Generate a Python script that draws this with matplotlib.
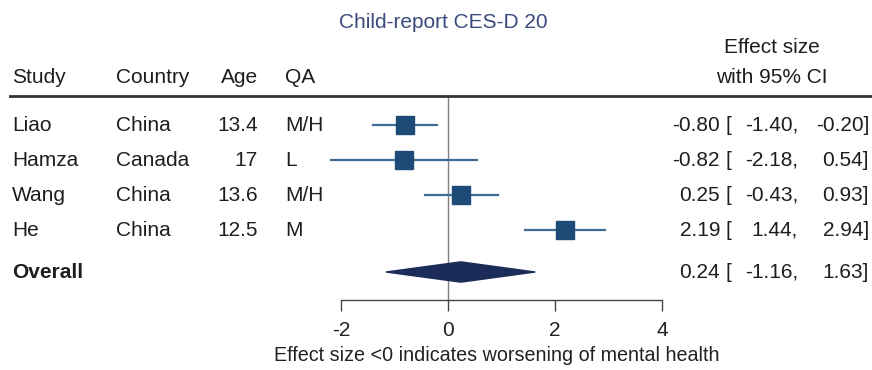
import numpy as np
import matplotlib
matplotlib.use('Agg')
import matplotlib.pyplot as plt
from matplotlib.lines import Line2D
from matplotlib.transforms import blended_transform_factory

plt.rcParams['font.family'] = ['Liberation Sans', 'DejaVu Sans']

STUDIES = ['Liao', 'Hamza', 'Wang', 'He']
COUNTRIES = ['China', 'Canada', 'China', 'China']
AGES = ['13.4', '17', '13.6', '12.5']
QA = ['M/H', 'L', 'M/H', 'M']
EFFECT = [-0.80, -0.82, 0.25, 2.19]
CI_LOW = [-1.40, -2.18, -0.43, 1.44]
CI_HIGH = [-0.20, 0.54, 0.93, 2.94]
OVERALL = 0.24
OVERALL_LOW = -1.16
OVERALL_HIGH = 1.63
XTICKS = [-2, 0, 2, 4]

W, H = 872, 370
FS = 15

fig = plt.figure(figsize=(W / 100, H / 100), dpi=100)
ax = fig.add_axes([341 / W, 70 / H, 321 / W, 204 / H])

n = len(STUDIES)
rows = np.arange(n)
overall_y = n + 0.2

ax.set_xlim(-2, 4)
ax.set_ylim(5.0, -0.83)

# zero line
ax.axvline(0, color='#7f7f7f', lw=1.0, zorder=1)

# study CIs and markers
for y, est, lo, hi in zip(rows, EFFECT, CI_LOW, CI_HIGH):
    ax.plot([lo, hi], [y, y], color='#3f6b97', lw=1.6, clip_on=False, zorder=2)
    ax.plot(est, y, marker='s', markersize=13, color='#1d4a77', clip_on=False, zorder=3)

# overall diamond
hh = 0.29
ax.fill([OVERALL_LOW, OVERALL, OVERALL_HIGH, OVERALL],
        [overall_y, overall_y - hh, overall_y, overall_y + hh],
        color='#1b2c5a', clip_on=False, zorder=3)

for s in ['top', 'left', 'right']:
    ax.spines[s].set_visible(False)
ax.spines['bottom'].set_bounds(-2, 4)
ax.spines['bottom'].set_color('#444444')
ax.spines['bottom'].set_linewidth(1.0)
ax.set_yticks([])
ax.set_xticks(XTICKS)
ax.set_xticklabels([str(t) for t in XTICKS])
ax.tick_params(axis='x', direction='out', length=8, width=1.0, color='#444444',
               labelsize=FS, pad=7, labelcolor='#222222')
ax.set_xlabel('Effect size <0 indicates worsening of mental health',
              fontsize=14.2, color='#222222')
ax.xaxis.set_label_coords(0.485, -0.225)

tr = blended_transform_factory(fig.transFigure, ax.transData)
tc = '#1e1e1e'

def fx(px):
    return px / W

head_y = -1.37
ax.text(fx(12), head_y, 'Study', transform=tr, fontsize=FS, va='center', color=tc)
ax.text(fx(116), head_y, 'Country', transform=tr, fontsize=FS, va='center', color=tc)
ax.text(fx(258), head_y, 'Age', transform=tr, fontsize=FS, va='center', ha='right', color=tc)
ax.text(fx(285), head_y, 'QA', transform=tr, fontsize=FS, va='center', color=tc)
ax.text(fx(772), -2.23, 'Effect size', transform=tr, fontsize=FS, va='center', ha='center', color=tc)
ax.text(fx(772), head_y, 'with 95% CI', transform=tr, fontsize=FS, va='center', ha='center', color=tc)

fig.text(fx(443), 1 - 22 / H, 'Child-report CES-D 20', fontsize=15, ha='center', va='center',
         color='#3b4a7c')

# header rule
fig.add_artist(Line2D([fx(10), 1.0], [1 - 96 / H, 1 - 96 / H], transform=fig.transFigure,
                      color='#333333', lw=2.0))

def effect_cols(y, est, lo, hi):
    ax.text(fx(720), y, f'{est:.2f}', transform=tr, fontsize=FS, va='center', ha='right', color=tc)
    ax.text(fx(725), y, '[', transform=tr, fontsize=FS, va='center', ha='left', color=tc)
    ax.text(fx(798), y, f'{lo:.2f},', transform=tr, fontsize=FS, va='center', ha='right', color=tc)
    ax.text(fx(869), y, f'{hi:.2f}]', transform=tr, fontsize=FS, va='center', ha='right', color=tc)

for i, y in enumerate(rows):
    ax.text(fx(12), y, STUDIES[i], transform=tr, fontsize=FS, va='center', color=tc)
    ax.text(fx(116), y, COUNTRIES[i], transform=tr, fontsize=FS, va='center', color=tc)
    ax.text(fx(258), y, AGES[i], transform=tr, fontsize=FS, va='center', ha='right', color=tc)
    ax.text(fx(285), y, QA[i], transform=tr, fontsize=FS, va='center', color=tc)
    effect_cols(y, EFFECT[i], CI_LOW[i], CI_HIGH[i])

ax.text(fx(12), overall_y, 'Overall', transform=tr, fontsize=FS, va='center',
        fontweight='bold', color=tc)
effect_cols(overall_y, OVERALL, OVERALL_LOW, OVERALL_HIGH)

fig.savefig('out.png', dpi=100, facecolor='white')
